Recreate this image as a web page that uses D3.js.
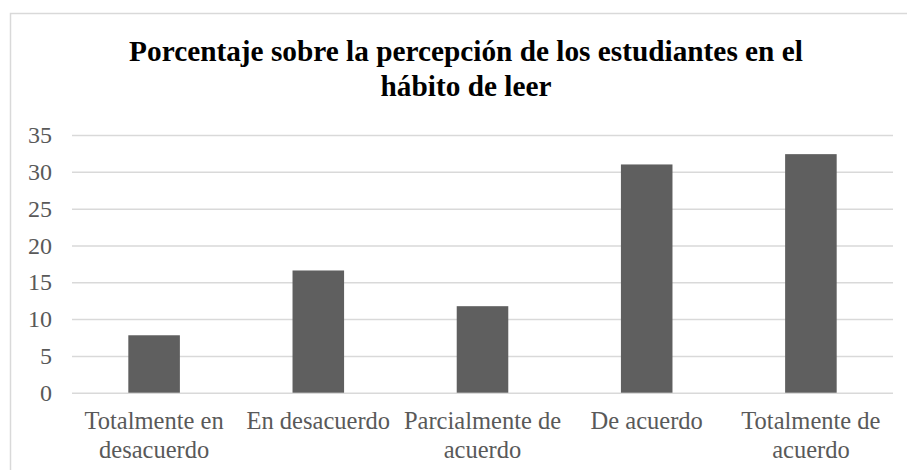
<!DOCTYPE html>
<html>
<head>
<meta charset="utf-8">
<script src="https://cdn.jsdelivr.net/npm/d3@7"></script>
<style>
  body { margin: 0; background: #fff; }
  text { font-family: "Liberation Serif", "Times New Roman", serif; }
</style>
</head>
<body>
<div id="chart"></div>
<script>
// data
const categories = ["Totalmente en desacuerdo", "En desacuerdo", "Parcialmente de acuerdo", "De acuerdo", "Totalmente de acuerdo"];
const values = [7.8, 16.6, 11.75, 31.0, 32.4];
const yTicks = [0, 5, 10, 15, 20, 25, 30, 35];
const titleLines = ["Porcentaje sobre la percepción de los estudiantes en el", "hábito de leer"];

const W = 907, H = 470;
const margin = {top: 135, right: 14, bottom: 77.3, left: 72};
const width = W - margin.left - margin.right,
      height = H - margin.top - margin.bottom;

const svg = d3.select("#chart")
  .append("svg")
  .attr("width", W)
  .attr("height", H);

// outer chart frame (runs off the right and bottom edge)
svg.append("rect")
  .attr("x", 10.5)
  .attr("y", 13.5)
  .attr("width", 960)
  .attr("height", 520)
  .attr("fill", "none")
  .attr("stroke", "#d9d9d9")
  .attr("stroke-width", 1.5);

// title
svg.append("g")
  .selectAll("text")
  .data(titleLines)
  .join("text")
  .attr("x", 466)
  .attr("y", (d, i) => 61 + i * 35)
  .attr("text-anchor", "middle")
  .style("font-size", "29.3px")
  .style("font-weight", "bold")
  .style("fill", "#000")
  .text(d => d);

const g = svg.append("g")
  .attr("transform", `translate(${margin.left}, ${margin.top})`);

const x = d3.scaleBand()
  .domain(categories)
  .range([0, width])
  .paddingInner(0.686)
  .paddingOuter(0.343);

const y = d3.scaleLinear()
  .domain([0, 35])
  .range([height, 0]);

// gridlines
g.append("g")
  .call(d3.axisLeft(y).tickValues(yTicks).tickSize(-width).tickFormat(""))
  .call(a => a.select(".domain").remove())
  .selectAll("line")
  .attr("stroke", "#d9d9d9")
  .attr("stroke-width", 1.5);

// y tick labels
const yAxis = g.append("g")
  .call(d3.axisLeft(y).tickValues(yTicks).tickSize(0).tickPadding(20));
yAxis.select(".domain").remove();
yAxis.selectAll("text")
  .style("font-family", "'Liberation Serif', 'Times New Roman', serif")
  .style("font-size", "24px")
  .attr("fill", "#595959");

// bars
g.selectAll("rect.bar")
  .data(values)
  .join("rect")
  .attr("class", "bar")
  .attr("x", (d, i) => x(categories[i]))
  .attr("y", d => y(d))
  .attr("width", x.bandwidth())
  .attr("height", d => height - y(d))
  .attr("fill", "#5f5f5f");

// x labels, wrapped to the band step
const xAxis = g.append("g")
  .attr("transform", `translate(0, ${height})`)
  .call(d3.axisBottom(x).tickSize(0).tickPadding(0));
xAxis.select(".domain").remove();
xAxis.selectAll("text")
  .style("font-family", "'Liberation Serif', 'Times New Roman', serif")
  .style("font-size", "24.5px")
  .attr("fill", "#595959")
  .attr("y", 36)
  .attr("dy", null)
  .each(function(d) {
    const t = d3.select(this);
    const words = d.split(" ");
    t.text(null);
    let line = [], lines = [];
    let tspan = t.append("tspan");
    words.forEach(w => {
      line.push(w);
      tspan.text(line.join(" "));
      if (tspan.node().getComputedTextLength() > x.step() - 2 && line.length > 1) {
        line.pop();
        lines.push(line.join(" "));
        line = [w];
        tspan.text(w);
      }
    });
    lines.push(line.join(" "));
    t.text(null);
    lines.forEach((l, i) => {
      t.append("tspan")
        .attr("x", 0)
        .attr("dy", i === 0 ? 0 : 29)
        .text(l);
    });
  });
</script>
</body>
</html>
